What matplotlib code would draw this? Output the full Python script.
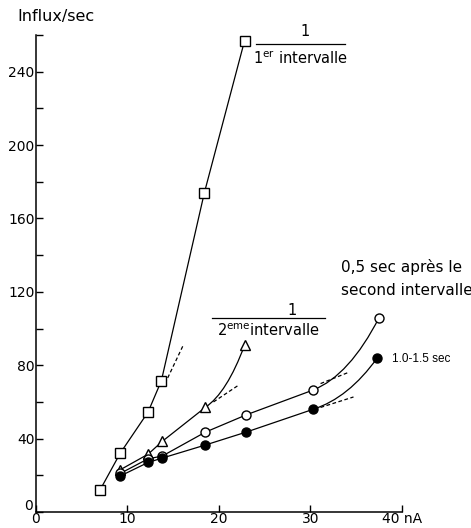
import numpy as np
import matplotlib
matplotlib.use('Agg')
import matplotlib.pyplot as plt
from matplotlib.path import Path
from matplotlib.patches import PathPatch


# values (x in nA, y in influx/sec)
sq_x = [7.0, 9.2, 12.25, 13.7, 18.4, 22.8]
sq_y = [12, 32, 54.5, 71.5, 174, 257]

tri_x = [9.2, 12.25, 13.8, 18.5, 22.8]
tri_y = [23, 31.5, 38.5, 57, 91]

open_x = [9.2, 12.25, 13.8, 18.5, 23.0, 30.3, 37.5]
open_y = [21, 29, 30.5, 43.5, 53, 66.5, 106]

fill_x = [9.2, 12.25, 13.8, 18.5, 23.0, 30.3, 37.3]
fill_y = [19.6, 27, 29.4, 36.5, 43.6, 56, 84]

# dashed tangents (start, end)
tan_sq = ([14.1, 16.1], [70, 91])
tan_tri = ([19.4, 22.1], [60, 69])
tan_open = ([31.1, 34.1], [70, 76])
tan_fill = ([31.1, 34.7], [57, 62.7])

x_ticks = [0, 10, 20, 30, 40]
x_labels = ['0', '10', '20', '30', '40 nA']
y_ticks = np.arange(0, 261, 20)


def curve_end(ax, x, y, tan):
    # straight segments, then a bent last segment following the tangent
    ax.plot(x[:-1], y[:-1], color='black', lw=0.9, zorder=2)
    slope = (tan[1][1] - tan[1][0]) / (tan[0][1] - tan[0][0])
    x0, y0, x2, y2 = x[-2], y[-2], x[-1], y[-1]
    cx = x0 + 0.55 * (x2 - x0)
    cy = y0 + slope * (cx - x0)
    path = Path([(x0, y0), (cx, cy), (x2, y2)],
                [Path.MOVETO, Path.CURVE3, Path.CURVE3])
    ax.add_patch(PathPatch(path, fill=False, color='black', lw=0.9, zorder=2))
    ax.plot(tan[0], tan[1], color='black', lw=0.9, ls=(0, (3, 2)), zorder=2)


fig = plt.figure(figsize=(4.71, 5.28), dpi=100)
ax = fig.add_axes([0.0764, 0.0303, 0.7771, 0.9034])

ax.plot(sq_x, sq_y, color='black', lw=0.9, zorder=2)
ax.plot(tan_sq[0], tan_sq[1], color='black', lw=0.9, ls=(0, (3, 2)), zorder=2)
curve_end(ax, tri_x, tri_y, tan_tri)
curve_end(ax, open_x, open_y, tan_open)
curve_end(ax, fill_x, fill_y, tan_fill)

ax.plot(sq_x, sq_y, ls='none', marker='s', ms=7, mfc='white', mec='black', mew=1, zorder=3)
ax.plot(tri_x, tri_y, ls='none', marker='^', ms=6.5, mfc='white', mec='black', mew=1, zorder=3)
ax.plot(open_x, open_y, ls='none', marker='o', ms=6.5, mfc='white', mec='black', mew=1, zorder=3)
ax.plot(fill_x, fill_y, ls='none', marker='o', ms=6.5, mfc='black', mec='black', mew=1, zorder=3)

ax.set_xlim(0, 40)
ax.set_ylim(0, 260)
ax.spines['top'].set_visible(False)
ax.spines['right'].set_visible(False)
ax.spines['left'].set_linewidth(1.1)
ax.spines['bottom'].set_linewidth(1.1)
ax.set_xticks(x_ticks)
ax.set_xticklabels(x_labels)
ax.set_yticks(y_ticks)
# the y "0" is drawn by hand, a little higher, so it clears the x "0"
ax.set_yticklabels([str(v) if v % 40 == 0 and v > 0 else '' for v in y_ticks])
ax.tick_params(axis='both', direction='in', length=5, width=1, labelsize=10)
ax.tick_params(axis='y', pad=1)
ax.tick_params(axis='x', pad=0)
ax.text(-0.35, 3.2, '0', fontsize=10, ha='right', va='center')

fig.text(17 / 471, 1 - 17 / 528, 'Influx/sec', fontsize=11.5, va='center', ha='left')

# 1 / 1er intervalle
ax.text(29.4, 262, '1', fontsize=10.5, ha='center', va='center')
ax.plot([24.0, 33.8], [255, 255], color='black', lw=0.9, clip_on=False)
ax.text(28.9, 247.5, r'1$^{\mathrm{er}}$ intervalle', fontsize=10.5, ha='center', va='center')

# 1 / 2eme intervalle
ax.text(28.0, 110, '1', fontsize=10.5, ha='center', va='center')
ax.plot([19.2, 31.6], [106, 106], color='black', lw=0.9)
ax.text(25.4, 99, r'2$^{\mathrm{eme}}$intervalle', fontsize=10.5, ha='center', va='center')

ax.text(33.3, 133.5, '0,5 sec après le', fontsize=11, ha='left', va='center')
ax.text(33.3, 121, 'second intervalle', fontsize=11, ha='left', va='center')
ax.text(38.9, 83.5, '1.0-1.5 sec', fontsize=8.5, family='Liberation Sans',
        ha='left', va='center')

fig.savefig('out.png', dpi=100)
